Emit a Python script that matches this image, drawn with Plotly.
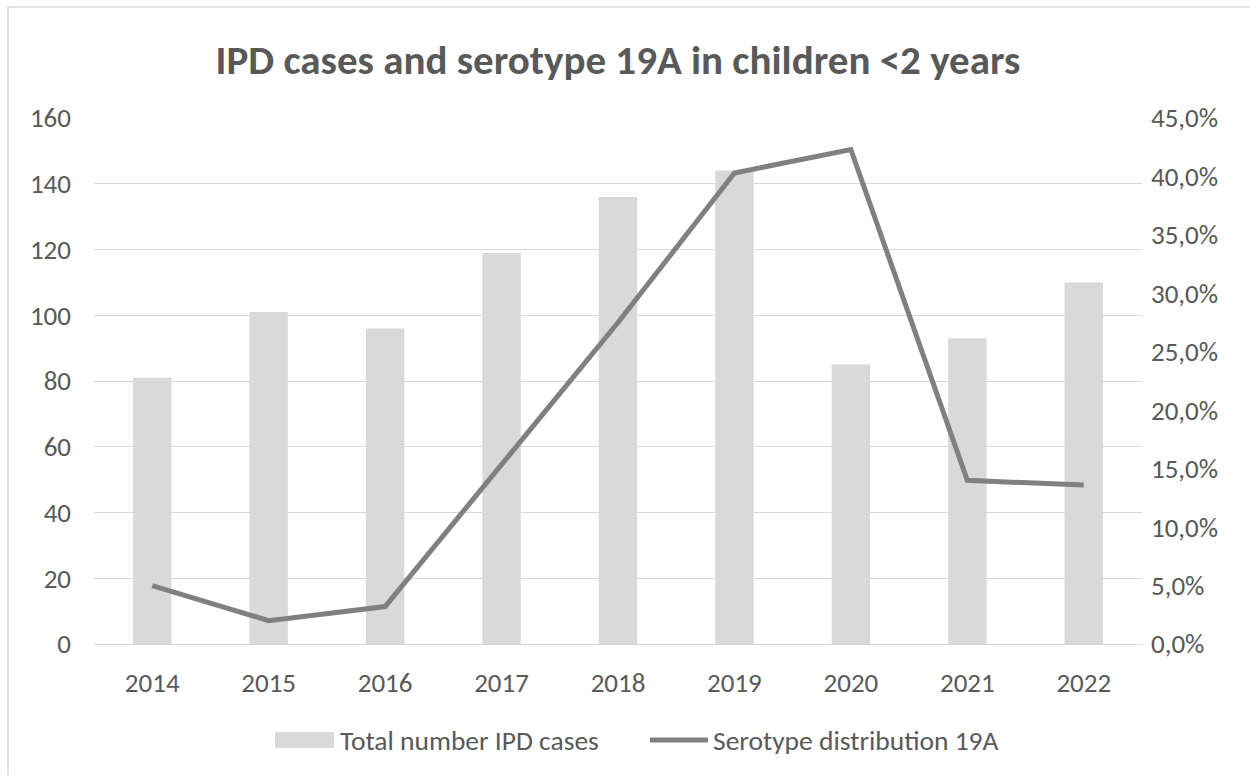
import plotly.graph_objects as go

# Yearly counts of invasive pneumococcal disease in children under 2
years = ["2014", "2015", "2016", "2017", "2018", "2019", "2020", "2021", "2022"]
ipd_cases = [81, 101, 96, 119, 136, 144, 85, 93, 110]
# Share of cases caused by serotype 19A (percent)
serotype_19a_pct = [5.0, 2.0, 3.2, 15.3, 27.5, 40.3, 42.3, 14.0, 13.6]

left_ticks = [0, 20, 40, 60, 80, 100, 120, 140, 160]
right_ticks = [0, 5, 10, 15, 20, 25, 30, 35, 40, 45]
right_tick_labels = [f"{v:.1f}%".replace(".", ",") for v in right_ticks]

bar_name = "Total number IPD cases"
line_name = "Serotype distribution 19A"

FONT = "Calibri, Carlito, Open Sans"
TEXT = "#595959"
GRID = "#d9d9d9"
BAR = "#d9d9d9"
LINE = "#808080"
LABEL_SIZE = 27

fig = go.Figure()
fig.add_trace(go.Bar(
    x=years, y=ipd_cases, name=bar_name,
    marker=dict(color=BAR, line=dict(width=0)),
    width=0.33, yaxis="y", showlegend=False,
))
fig.add_trace(go.Scatter(
    x=years, y=serotype_19a_pct, name=line_name,
    mode="lines", line=dict(color=LINE, width=5),
    yaxis="y2", showlegend=False,
))

W, H = 1250, 775
L, R, T, B = 94, 108, 118, 131
pw, ph = W - L - R, H - T - B

def px_x(x):
    return (x - L) / pw

def px_y(y):
    return (H - B - y) / ph

fig.update_layout(
    width=W, height=H,
    margin=dict(l=L, r=R, t=T, b=B),
    paper_bgcolor="white", plot_bgcolor="white",
    font=dict(family=FONT, color=TEXT, size=LABEL_SIZE),
    title=dict(
        text="<b>IPD cases and serotype 19A in children &lt;2 years</b>",
        x=0.5, xref="paper", xanchor="center",
        y=1 - 60 / H, yanchor="middle",
        font=dict(family=FONT, size=41, color=TEXT),
    ),
    xaxis=dict(
        type="category", showgrid=False, zeroline=False,
        showline=True, linecolor=GRID, linewidth=1.3,
        ticks="", tickfont=dict(size=LABEL_SIZE, color=TEXT),
        ticklabelstandoff=14,
    ),
    yaxis=dict(
        range=[0, 160], tickvals=left_ticks,
        showgrid=True, gridcolor=GRID, gridwidth=1.3,
        zeroline=False, showline=False, ticks="",
        tickfont=dict(size=LABEL_SIZE, color=TEXT), ticklabelstandoff=22,
    ),
    yaxis2=dict(
        range=[0, 45], tickvals=right_ticks, ticktext=right_tick_labels,
        overlaying="y", side="right", showgrid=False, zeroline=False,
        showline=False, ticks="",
        tickfont=dict(size=LABEL_SIZE, color=TEXT), ticklabelstandoff=8,
    ),
    bargap=0.67,
    showlegend=False,
)

# Chart frame
fig.add_shape(
    type="rect", xref="paper", yref="paper",
    x0=px_x(8), x1=px_x(1290), y0=px_y(800), y1=px_y(7),
    line=dict(color=GRID, width=1.5), fillcolor="rgba(0,0,0,0)",
    layer="below",
)

# Legend below the axis: wide swatches followed by series names
legend_y = 740
fig.add_shape(
    type="rect", xref="paper", yref="paper",
    x0=px_x(275), x1=px_x(334), y0=px_y(748), y1=px_y(732),
    line=dict(width=0), fillcolor=BAR,
)
fig.add_annotation(
    text=bar_name, xref="paper", yref="paper",
    x=px_x(338), y=px_y(legend_y), xanchor="left", yanchor="middle",
    showarrow=False, font=dict(family=FONT, size=27.5, color=TEXT),
)
fig.add_shape(
    type="line", xref="paper", yref="paper",
    x0=px_x(650), x1=px_x(708), y0=px_y(legend_y), y1=px_y(legend_y),
    line=dict(color=LINE, width=5),
)
fig.add_annotation(
    text=line_name, xref="paper", yref="paper",
    x=px_x(711), y=px_y(legend_y), xanchor="left", yanchor="middle",
    showarrow=False, font=dict(family=FONT, size=27.5, color=TEXT),
)

# Section heading above the chart
fig.add_annotation(
    text="<b>Results:</b>", xref="paper", yref="paper",
    x=px_x(0), y=px_y(3), xanchor="left", yanchor="bottom",
    showarrow=False, font=dict(family=FONT, size=22, color="#000000"),
)

fig.write_html("out.html")
